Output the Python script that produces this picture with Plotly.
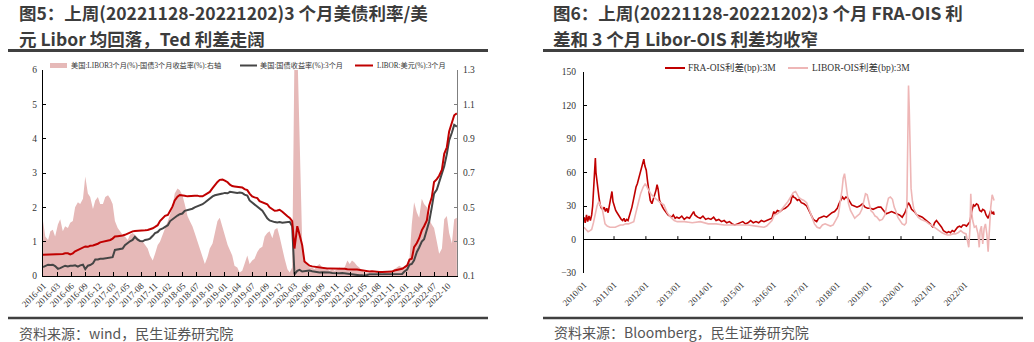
import pandas as pd
import plotly.graph_objects as go

W, H = 1034, 342

# ---------------- Left panel (Fig.5) data ----------------
SEMI_DATES = pd.date_range("2016-01-01", "2022-12-01", freq="SMS")  # 1st & 15th of month

LIBOR_3M = (
    [0.62, 0.62, 0.62, 0.62, 0.63, 0.63, 0.63, 0.64, 0.64, 0.66, 0.66, 0.63, 0.66, 0.72, 0.76, 0.81, 0.84, 0.86, 0.85, 0.88, 0.89, 0.91, 0.94, 0.98]
    + [1.00, 1.03, 1.04, 1.05, 1.09, 1.15, 1.16, 1.16, 1.18, 1.20, 1.24, 1.28, 1.30, 1.31, 1.31, 1.32, 1.31, 1.33, 1.34, 1.36, 1.39, 1.43, 1.48, 1.60]
    + [1.69, 1.75, 1.78, 1.90, 2.02, 2.20, 2.31, 2.36, 2.36, 2.34, 2.32, 2.33, 2.34, 2.34, 2.34, 2.32, 2.32, 2.36, 2.40, 2.45, 2.56, 2.65, 2.74, 2.80]
    + [2.81, 2.78, 2.73, 2.66, 2.62, 2.61, 2.60, 2.59, 2.58, 2.53, 2.50, 2.40, 2.32, 2.29, 2.27, 2.18, 2.14, 2.12, 2.09, 2.00, 1.93, 1.90, 1.91, 1.93]
    + [1.87, 1.80, 1.74, 1.69, 1.60, 0.80, 1.45, 1.20, 0.90, 0.42, 0.34, 0.30, 0.28, 0.27, 0.25, 0.25, 0.24, 0.23, 0.22, 0.22, 0.22, 0.22, 0.23, 0.22]
    + [0.22, 0.21, 0.20, 0.19, 0.19, 0.19, 0.19, 0.18, 0.17, 0.15, 0.14, 0.13, 0.14, 0.13, 0.13, 0.12, 0.12, 0.12, 0.12, 0.12, 0.13, 0.16, 0.17, 0.20]
    + [0.21, 0.25, 0.31, 0.48, 0.50, 0.84, 0.96, 1.10, 1.33, 1.45, 1.62, 2.05, 2.29, 2.74, 2.82, 2.92, 3.10, 3.56, 3.75, 4.21, 4.46, 4.68, 4.74]
)

UST_3M = (
    [0.26, 0.30, 0.33, 0.32, 0.33, 0.29, 0.21, 0.23, 0.26, 0.30, 0.28, 0.30, 0.30, 0.31, 0.27, 0.31, 0.33, 0.20, 0.30, 0.32, 0.37, 0.48, 0.48, 0.50]
    + [0.50, 0.51, 0.51, 0.52, 0.55, 0.76, 0.78, 0.80, 0.80, 0.90, 0.97, 1.01, 1.05, 1.14, 1.06, 1.02, 1.01, 1.05, 1.06, 1.09, 1.17, 1.25, 1.28, 1.35]
    + [1.39, 1.44, 1.48, 1.60, 1.65, 1.72, 1.76, 1.80, 1.82, 1.90, 1.92, 1.93, 1.96, 2.00, 2.03, 2.06, 2.09, 2.14, 2.20, 2.27, 2.32, 2.35, 2.36, 2.38]
    + [2.40, 2.42, 2.41, 2.45, 2.44, 2.43, 2.42, 2.43, 2.42, 2.37, 2.34, 2.20, 2.14, 2.08, 2.01, 1.95, 1.90, 1.80, 1.68, 1.62, 1.58, 1.57, 1.56, 1.57]
    + [1.55, 1.56, 1.57, 1.58, 1.45, 0.05, 0.15, 0.18, 0.13, 0.14, 0.15, 0.16, 0.14, 0.13, 0.11, 0.10, 0.11, 0.10, 0.10, 0.10, 0.09, 0.08, 0.09, 0.08]
    + [0.09, 0.08, 0.07, 0.05, 0.04, 0.03, 0.03, 0.02, 0.02, 0.01, 0.03, 0.05, 0.05, 0.05, 0.05, 0.05, 0.05, 0.04, 0.04, 0.05, 0.05, 0.05, 0.06, 0.06]
    + [0.06, 0.13, 0.19, 0.33, 0.35, 0.46, 0.70, 0.83, 1.00, 1.07, 1.40, 1.58, 2.00, 2.40, 2.52, 2.72, 2.96, 3.20, 3.55, 3.95, 4.18, 4.40, 4.35]
)

TED_SPREAD = (
    [0.42, 0.33, 0.31, 0.36, 0.37, 0.33, 0.40, 0.43, 0.36, 0.39, 0.38, 0.41, 0.42, 0.50, 0.53, 0.52, 0.55, 0.68, 0.58, 0.56, 0.49, 0.54, 0.56, 0.52]
    + [0.52, 0.56, 0.57, 0.55, 0.52, 0.42, 0.38, 0.36, 0.34, 0.33, 0.31, 0.34, 0.35, 0.34, 0.32, 0.31, 0.30, 0.28, 0.26, 0.22, 0.19, 0.23, 0.28, 0.30]
    + [0.34, 0.38, 0.42, 0.46, 0.50, 0.58, 0.61, 0.60, 0.57, 0.52, 0.45, 0.42, 0.39, 0.35, 0.30, 0.25, 0.20, 0.17, 0.21, 0.26, 0.29, 0.36, 0.42, 0.44]
    + [0.38, 0.33, 0.28, 0.25, 0.22, 0.16, 0.15, 0.12, 0.13, 0.17, 0.22, 0.17, 0.19, 0.20, 0.24, 0.26, 0.27, 0.33, 0.35, 0.36, 0.32, 0.37, 0.38, 0.33]
    + [0.25, 0.20, 0.14, 0.12, 0.15, 1.40, 1.45, 0.95, 0.30, 0.19, 0.17, 0.15, 0.15, 0.14, 0.16, 0.17, 0.15, 0.14, 0.14, 0.13, 0.14, 0.13, 0.14, 0.15]
    + [0.14, 0.15, 0.19, 0.17, 0.19, 0.18, 0.16, 0.15, 0.13, 0.12, 0.12, 0.11, 0.11, 0.11, 0.11, 0.12, 0.11, 0.12, 0.12, 0.12, 0.13, 0.14, 0.15, 0.16]
    + [0.15, 0.14, 0.16, 0.20, 0.40, 0.53, 0.47, 0.44, 0.55, 0.52, 0.50, 0.43, 0.40, 0.38, 0.30, 0.23, 0.26, 0.43, 0.45, 0.35, 0.29, 0.43, 0.44]
)

LEFT_TICK_DATES = [
    "2016-01-04", "2016-03-29", "2016-06-23", "2016-09-15", "2016-12-09", "2017-03-04",
    "2017-05-28", "2017-08-22", "2017-11-15", "2018-02-08", "2018-05-04", "2018-07-28",
    "2018-10-22", "2019-01-15", "2019-04-09", "2019-07-03", "2019-09-27", "2019-12-21",
    "2020-03-15", "2020-06-08", "2020-09-01", "2020-11-26", "2021-02-19", "2021-05-15",
    "2021-08-08", "2021-11-01", "2022-01-26", "2022-04-21", "2022-07-15", "2022-10-08",
]
LEFT_TICK_LABELS = [
    "2016-01", "2016-03", "2016-06", "2016-09", "2016-12", "2017-03", "2017-05", "2017-08",
    "2017-11", "2018-02", "2018-05", "2018-07", "2018-10", "2019-01", "2019-04", "2019-07",
    "2019-09", "2019-12", "2020-03", "2020-06", "2020-09", "2020-11", "2021-02", "2021-05",
    "2021-08", "2021-11", "2022-01", "2022-04", "2022-07", "2022-10",
]

# ---------------- Right panel (Fig.6) data ----------------
FRA_OIS_DATES = [
    "2010-01-22", "2010-02-05", "2010-02-20", "2010-03-05", "2010-03-20", "2010-04-05", "2010-04-20",
    "2010-05-01", "2010-05-12", "2010-05-22", "2010-06-01", "2010-06-08", "2010-06-18", "2010-07-01",
    "2010-07-12", "2010-07-25", "2010-08-10", "2010-08-25", "2010-09-10", "2010-09-25", "2010-10-10",
    "2010-10-25", "2010-11-10", "2010-11-25", "2010-12-08", "2010-12-20", "2011-01-05", "2011-01-20",
    "2011-02-05", "2011-02-20", "2011-03-10", "2011-03-25", "2011-04-10", "2011-04-25", "2011-05-10",
    "2011-05-25", "2011-06-10", "2011-06-25", "2011-07-10", "2011-07-25", "2011-08-10", "2011-08-25",
    "2011-09-10", "2011-09-25", "2011-10-10", "2011-10-25", "2011-11-10", "2011-11-25", "2011-12-08",
    "2011-12-20", "2012-01-05", "2012-01-20", "2012-02-05", "2012-02-20", "2012-03-10", "2012-03-25",
    "2012-04-10", "2012-04-25", "2012-05-08", "2012-05-20", "2012-06-05", "2012-06-20", "2012-07-10",
    "2012-07-25", "2012-08-10", "2012-08-25", "2012-09-10", "2012-10-01", "2012-10-20", "2012-11-10",
    "2012-12-01", "2012-12-20", "2013-01-15", "2013-02-15", "2013-03-15", "2013-04-15", "2013-05-15",
    "2013-06-15", "2013-07-01", "2013-07-15", "2013-08-15", "2013-09-15", "2013-10-15", "2013-11-15",
    "2013-12-15", "2014-01-15", "2014-02-15", "2014-03-15", "2014-04-15", "2014-05-15", "2014-06-15",
    "2014-07-15", "2014-08-15", "2014-09-15", "2014-10-15", "2014-11-15", "2014-12-15", "2015-01-15",
    "2015-02-15", "2015-03-15", "2015-04-15", "2015-05-15", "2015-06-15", "2015-07-15", "2015-08-15",
    "2015-09-15", "2015-10-15", "2015-11-15", "2015-12-15", "2016-01-05", "2016-01-20", "2016-02-15",
    "2016-03-15", "2016-04-15", "2016-05-15", "2016-06-15", "2016-07-15", "2016-08-05", "2016-08-20",
    "2016-09-10", "2016-10-01", "2016-10-20", "2016-11-15", "2016-12-15", "2017-01-15", "2017-02-10",
    "2017-03-01", "2017-04-01", "2017-05-10", "2017-06-01", "2017-07-01", "2017-08-01", "2017-09-01",
    "2017-10-01", "2017-11-01", "2017-12-01", "2018-01-01", "2018-01-20", "2018-02-10", "2018-03-01",
    "2018-03-20", "2018-04-10", "2018-05-01", "2018-05-20", "2018-06-15", "2018-07-15", "2018-08-15",
    "2018-09-15", "2018-10-15", "2018-11-15", "2018-12-15", "2019-01-15", "2019-02-15", "2019-03-15",
    "2019-04-15", "2019-05-15", "2019-06-15", "2019-07-15", "2019-08-15", "2019-09-15", "2019-10-15",
    "2019-11-15", "2019-12-15", "2020-01-15", "2020-02-15", "2020-03-10", "2020-03-25", "2020-04-10",
    "2020-05-01", "2020-06-01", "2020-07-01", "2020-08-01", "2020-09-01", "2020-10-01", "2020-11-01",
    "2020-12-01", "2021-01-01", "2021-01-20", "2021-02-10", "2021-03-01", "2021-03-20", "2021-04-10",
    "2021-05-01", "2021-05-20", "2021-06-10", "2021-07-01", "2021-07-20", "2021-08-10", "2021-09-01",
    "2021-09-20", "2021-10-10", "2021-11-01", "2021-11-20", "2021-12-10", "2022-01-01", "2022-01-20",
    "2022-02-10", "2022-03-01", "2022-03-20", "2022-04-10", "2022-04-25", "2022-05-15", "2022-06-01",
    "2022-06-20", "2022-07-10", "2022-07-25", "2022-08-15", "2022-09-01", "2022-09-25", "2022-10-10",
    "2022-10-25", "2022-11-10", "2022-11-25", "2022-12-02",
]
FRA_OIS_BP = [
    20, 15, 22, 16, 21, 17, 22,
    30, 45, 55, 73, 60, 52, 45,
    38, 31, 28, 27, 29, 25, 28,
    24, 31, 36, 43, 34, 29, 26,
    24, 22, 20, 18, 17, 19, 16,
    18, 17, 21, 23, 29, 35, 42,
    47, 50, 55, 58, 64, 69, 72,
    66, 62, 52, 42, 35, 32, 36,
    38, 44, 49, 45, 35, 32, 29,
    27, 25, 23, 22, 21, 20, 22,
    19, 20, 19, 21, 18, 20, 19,
    23, 25, 22, 20, 19, 21, 18,
    19, 18, 20, 17, 18, 16, 17,
    15, 16, 14, 13, 14, 15, 16,
    14, 15, 17, 15, 16, 15, 17,
    16, 17, 18, 19, 25, 23, 26,
    25, 27, 28, 30, 33, 40, 38,
    37, 35, 36, 33, 32, 30, 26,
    23, 18, 16, 19, 20, 21, 20,
    22, 24, 25, 28, 32, 35, 38,
    36, 38, 37, 34, 31, 30, 29,
    30, 32, 29, 28, 28, 27, 28,
    29, 29, 26, 23, 24, 25, 24,
    23, 22, 20, 24, 29, 33, 31,
    27, 25, 22, 21, 20, 18, 16,
    14, 11, 15, 17, 15, 14, 11,
    8, 7, 6, 7, 6, 8, 7,
    9, 11, 12, 11, 13, 13, 12,
    14, 16, 25, 31, 30, 32, 31,
    26, 25, 27, 26, 22, 19, 23,
    26, 23, 25, 22,
]

LIBOR_OIS_DATES = [
    "2010-01-22", "2010-02-15", "2010-03-10", "2010-04-01", "2010-04-20", "2010-05-10", "2010-06-01",
    "2010-06-20", "2010-07-10", "2010-07-25", "2010-08-15", "2010-09-01", "2010-09-20", "2010-10-15",
    "2010-11-15", "2010-12-15", "2011-01-15", "2011-02-15", "2011-03-15", "2011-04-15", "2011-05-15",
    "2011-06-15", "2011-07-15", "2011-08-15", "2011-09-05", "2011-10-01", "2011-11-01", "2011-12-01",
    "2011-12-25", "2012-01-20", "2012-02-25", "2012-04-01", "2012-05-10", "2012-06-15", "2012-07-25",
    "2012-09-01", "2012-10-10", "2012-11-20", "2012-12-25", "2013-03-15", "2013-06-15", "2013-09-15",
    "2013-12-15", "2014-03-15", "2014-06-15", "2014-09-15", "2014-12-15", "2015-03-15", "2015-06-15",
    "2015-09-15", "2015-10-15", "2015-11-15", "2015-12-15", "2016-01-10", "2016-02-15", "2016-03-15",
    "2016-04-15", "2016-05-15", "2016-06-15", "2016-07-15", "2016-08-15", "2016-09-10", "2016-09-25",
    "2016-10-15", "2016-11-15", "2016-12-15", "2017-01-15", "2017-02-15", "2017-03-15", "2017-04-15",
    "2017-05-15", "2017-06-15", "2017-07-15", "2017-08-15", "2017-09-15", "2017-10-15", "2017-11-15",
    "2017-12-15", "2018-01-10", "2018-01-25", "2018-02-10", "2018-02-25", "2018-03-10", "2018-03-25",
    "2018-04-10", "2018-04-25", "2018-05-10", "2018-06-01", "2018-06-20", "2018-07-20", "2018-08-15",
    "2018-09-15", "2018-10-10", "2018-10-30", "2018-11-20", "2018-12-10", "2019-01-01", "2019-01-20",
    "2019-02-15", "2019-03-10", "2019-04-01", "2019-05-01", "2019-06-01", "2019-07-01", "2019-07-20",
    "2019-08-10", "2019-09-01", "2019-09-25", "2019-10-15", "2019-11-01", "2019-11-25", "2019-12-20",
    "2020-01-15", "2020-02-10", "2020-03-01", "2020-03-10", "2020-03-20", "2020-03-27", "2020-04-05",
    "2020-04-15", "2020-04-25", "2020-05-10", "2020-05-25", "2020-06-15", "2020-07-15", "2020-08-15",
    "2020-09-15", "2020-10-15", "2020-11-15", "2020-12-15", "2021-01-15", "2021-02-15", "2021-03-15",
    "2021-04-15", "2021-05-15", "2021-06-15", "2021-07-15", "2021-08-15", "2021-09-15", "2021-10-15",
    "2021-11-15", "2021-12-15", "2022-01-15", "2022-02-01", "2022-02-15", "2022-03-01", "2022-03-10",
    "2022-03-20", "2022-04-01", "2022-04-20", "2022-05-10", "2022-06-01", "2022-06-15", "2022-06-25",
    "2022-07-10", "2022-07-25", "2022-08-10", "2022-08-25", "2022-09-10", "2022-09-25", "2022-10-10",
    "2022-10-25", "2022-11-10", "2022-11-25", "2022-12-02",
]
LIBOR_OIS_BP = [
    11, 9, 7, 8, 9, 15, 23,
    30, 34, 31, 29, 22, 14, 12,
    11, 11, 11, 12, 13, 13, 14,
    14, 15, 16, 23, 32, 41, 47,
    50, 46, 41, 38, 35, 33, 31,
    24, 20, 17, 16, 16, 15, 16,
    14, 14, 13, 13, 13, 13, 12,
    11, 12, 15, 17, 22, 23, 25,
    28, 30, 34, 38, 42, 43, 41,
    38, 36, 35, 33, 26, 20, 14,
    11, 10, 13, 14, 13, 12, 13,
    17, 21, 28, 35, 45, 55, 59,
    50, 38, 32, 26, 23, 19, 21,
    23, 27, 35, 41, 40, 33, 26,
    24, 21, 20, 17, 18, 22, 30,
    37, 38, 36, 29, 26, 20, 17,
    14, 13, 15, 40, 90, 138, 115,
    70, 46, 35, 28, 24, 20, 18,
    17, 16, 14, 13, 11, 9, 8,
    6, 5, 4, 4, 5, 5, 6,
    8, 6, 5, -3, -7, 10, 41,
    25, 17, 11, 12, 5, -7, 8,
    12, -4, 10, 14, 5, -11, 10,
    29, 40, 36, 35,
]

RIGHT_TICK_DATES = [
    "2010-01-22", "2011-01-01", "2012-01-01", "2013-01-01", "2014-01-01", "2015-01-01", "2016-01-01",
    "2017-01-01", "2018-01-01", "2019-01-01", "2020-01-01", "2021-01-01", "2022-01-01",
]
RIGHT_TICK_LABELS = [
    "2010/01", "2011/01", "2012/01", "2013/01", "2014/01", "2015/01", "2016/01",
    "2017/01", "2018/01", "2019/01", "2020/01", "2021/01", "2022/01",
]

# ---------------- Text ----------------
TITLE_L = ["图5：上周(20221128-20221202)3 个月美债利率/美", "元 Libor 均回落，Ted 利差走阔"]
TITLE_R = ["图6：上周(20221128-20221202)3 个月 FRA-OIS 利", "差和 3 个月 Libor-OIS 利差均收窄"]
SOURCE_L = "资料来源：wind，民生证券研究院"
SOURCE_R = "资料来源：Bloomberg，民生证券研究院"
NAME_TED = "美国:LIBOR3个月(%)-国债3个月收益率(%):右轴"
NAME_UST = "美国:国债收益率(%):3个月"
NAME_LIBOR = "LIBOR:美元(%):3个月"
NAME_FRA = "FRA-OIS利差(bp):3M"
NAME_LOIS = "LIBOR-OIS利差(bp):3M"

# ---------------- Styling ----------------
SERIF = "Liberation Serif, Noto Sans CJK SC, serif"
CJK = "Noto Sans CJK SC, sans-serif"
RED = "#c00000"
GRAY = "#454545"
PINK_FILL = "#e6b9b8"
PINK_LINE = "#eeb6b6"
TICK_COLOR = "#333333"


def px_x(p):
    return p / W


def px_y(p):
    return 1 - p / H


L_DOM_X = [px_x(43), px_x(457)]
L_DOM_Y = [px_y(276), px_y(70)]
R_DOM_X = [px_x(584), px_x(996)]
R_DOM_Y = [px_y(273), px_y(72)]

fig = go.Figure()

fig.add_trace(go.Scatter(
    x=SEMI_DATES, y=TED_SPREAD, name=NAME_TED, mode="lines",
    fill="tozeroy", fillcolor=PINK_FILL, line=dict(width=0, color=PINK_FILL),
    xaxis="x", yaxis="y",
))
fig.add_trace(go.Scatter(
    x=SEMI_DATES, y=UST_3M, name=NAME_UST, mode="lines",
    line=dict(width=2, color=GRAY), xaxis="x", yaxis="y2",
))
fig.add_trace(go.Scatter(
    x=SEMI_DATES, y=LIBOR_3M, name=NAME_LIBOR, mode="lines",
    line=dict(width=2, color=RED), xaxis="x", yaxis="y2",
))
fig.add_trace(go.Scatter(
    x=FRA_OIS_DATES, y=FRA_OIS_BP, name=NAME_FRA, mode="lines",
    line=dict(width=1.6, color=RED), xaxis="x2", yaxis="y3",
))
fig.add_trace(go.Scatter(
    x=LIBOR_OIS_DATES, y=LIBOR_OIS_BP, name=NAME_LOIS, mode="lines",
    line=dict(width=1.6, color=PINK_LINE), xaxis="x2", yaxis="y3",
))

tickfont = dict(family=SERIF, size=9.5, color=TICK_COLOR)

fig.update_layout(
    width=W, height=H, autosize=False,
    margin=dict(l=0, r=0, t=0, b=0, autoexpand=False),
    paper_bgcolor="white", plot_bgcolor="white",
    showlegend=False,
    xaxis=dict(
        domain=L_DOM_X, anchor="y", type="date", automargin=False,
        range=["2016-01-01", "2022-12-02"],
        tickmode="array", tickvals=LEFT_TICK_DATES, ticktext=LEFT_TICK_LABELS,
        tickangle=-45, ticks="inside", ticklen=4, tickcolor="black",
        showline=True, linecolor="black", linewidth=1,
        showgrid=False, zeroline=False,
        tickfont=dict(family=SERIF, size=9, color=TICK_COLOR),
    ),
    yaxis=dict(
        domain=L_DOM_Y, anchor="x", side="right", automargin=False,
        range=[0.1, 1.3], tick0=0.1, dtick=0.2, tickformat=".1f",
        ticks="inside", ticklen=3, tickcolor="#7f7f7f",
        showline=True, linecolor="#7f7f7f", linewidth=1,
        showgrid=False, zeroline=False, tickfont=tickfont,
        ticklabelstandoff=3,
    ),
    yaxis2=dict(
        overlaying="y", anchor="x", side="left", automargin=False,
        range=[0, 6], tick0=0, dtick=1,
        ticks="inside", ticklen=3, tickcolor="black",
        showline=True, linecolor="black", linewidth=1,
        showgrid=False, zeroline=False, tickfont=tickfont,
        ticklabelstandoff=3,
    ),
    xaxis2=dict(
        domain=R_DOM_X, anchor="y3", type="date", automargin=False,
        range=["2010-01-22", "2022-12-24"],
        tickmode="array", tickvals=RIGHT_TICK_DATES, ticktext=RIGHT_TICK_LABELS,
        tickangle=-45, ticks="", showline=False,
        showgrid=False, zeroline=False,
        tickfont=dict(family=SERIF, size=9, color=TICK_COLOR),
        ticklabelstandoff=4,
    ),
    yaxis3=dict(
        domain=R_DOM_Y, anchor="x2", automargin=False,
        range=[-30, 150], tick0=0, dtick=30,
        ticks="inside", ticklen=3, tickcolor="black",
        showline=True, linecolor="black", linewidth=1,
        showgrid=False, zeroline=True, zerolinecolor="black", zerolinewidth=1,
        tickfont=tickfont, ticklabelstandoff=5,
    ),
)

annotations = []
title_font = dict(family=CJK, size=17.5, color="#3c3c3c", weight="bold")
for i, line in enumerate(TITLE_L):
    annotations.append(dict(text=line, x=px_x(17), y=px_y(13 + 25.6 * i), xref="paper", yref="paper",
                            xanchor="left", yanchor="middle", showarrow=False, font=title_font))
for i, line in enumerate(TITLE_R):
    annotations.append(dict(text=line, x=px_x(551), y=px_y(13 + 25.6 * i), xref="paper", yref="paper",
                            xanchor="left", yanchor="middle", showarrow=False, font=title_font))
src_font = dict(family=CJK, size=14, color="#555555")
annotations.append(dict(text=SOURCE_L, x=px_x(17), y=px_y(333), xref="paper", yref="paper",
                        xanchor="left", yanchor="middle", showarrow=False, font=src_font))
annotations.append(dict(text=SOURCE_R, x=px_x(552), y=px_y(332), xref="paper", yref="paper",
                        xanchor="left", yanchor="middle", showarrow=False, font=src_font))

RULE = "#404040"
shapes = [
    dict(type="line", xref="paper", yref="paper", x0=px_x(8), x1=px_x(488), y0=px_y(50.5), y1=px_y(50.5),
         line=dict(color=RULE, width=3)),
    dict(type="line", xref="paper", yref="paper", x0=px_x(543), x1=px_x(1024), y0=px_y(50.5), y1=px_y(50.5),
         line=dict(color=RULE, width=3)),
    dict(type="line", xref="paper", yref="paper", x0=px_x(8), x1=px_x(488), y0=px_y(318), y1=px_y(318),
         line=dict(color=RULE, width=2.5)),
    dict(type="line", xref="paper", yref="paper", x0=px_x(543), x1=px_x(1023), y0=px_y(318), y1=px_y(318),
         line=dict(color=RULE, width=2.5)),
]
# tick marks along the zero line of the right panel
for d in RIGHT_TICK_DATES[1:]:
    shapes.append(dict(type="line", xref="x2", yref="y3", x0=d, x1=d, y0=0, y1=3,
                       line=dict(color="black", width=1)))

# legends (key + label), laid out like the original
leg_font_l = dict(family=SERIF, size=7.2, color=TICK_COLOR)
leg_font_r = dict(family=SERIF, size=9.5, color=TICK_COLOR)
LEG_Y_L = 65.5
LEG_Y_R = 68
shapes.append(dict(type="rect", xref="paper", yref="paper", x0=px_x(50), x1=px_x(67),
                   y0=px_y(68), y1=px_y(63), fillcolor=PINK_FILL, line=dict(width=0)))
for (x0, x1, color, width, xt, name, yy, fnt) in [
    (240, 257, GRAY, 2, 258, NAME_UST, LEG_Y_L, leg_font_l),
    (355, 373, RED, 2, 375, NAME_LIBOR, LEG_Y_L, leg_font_l),
    (665, 685, RED, 2, 686, NAME_FRA, LEG_Y_R, leg_font_r),
    (788, 808, PINK_LINE, 2, 810, NAME_LOIS, LEG_Y_R, leg_font_r),
]:
    shapes.append(dict(type="line", xref="paper", yref="paper", x0=px_x(x0), x1=px_x(x1),
                       y0=px_y(yy), y1=px_y(yy), line=dict(color=color, width=width)))
    annotations.append(dict(text=name, x=px_x(xt), y=px_y(yy), xref="paper", yref="paper",
                            xanchor="left", yanchor="middle", showarrow=False, font=fnt))
annotations.append(dict(text=NAME_TED, x=px_x(69), y=px_y(LEG_Y_L), xref="paper", yref="paper",
                        xanchor="left", yanchor="middle", showarrow=False, font=leg_font_l))

fig.update_layout(annotations=annotations, shapes=shapes)

fig.write_html("out.html")
